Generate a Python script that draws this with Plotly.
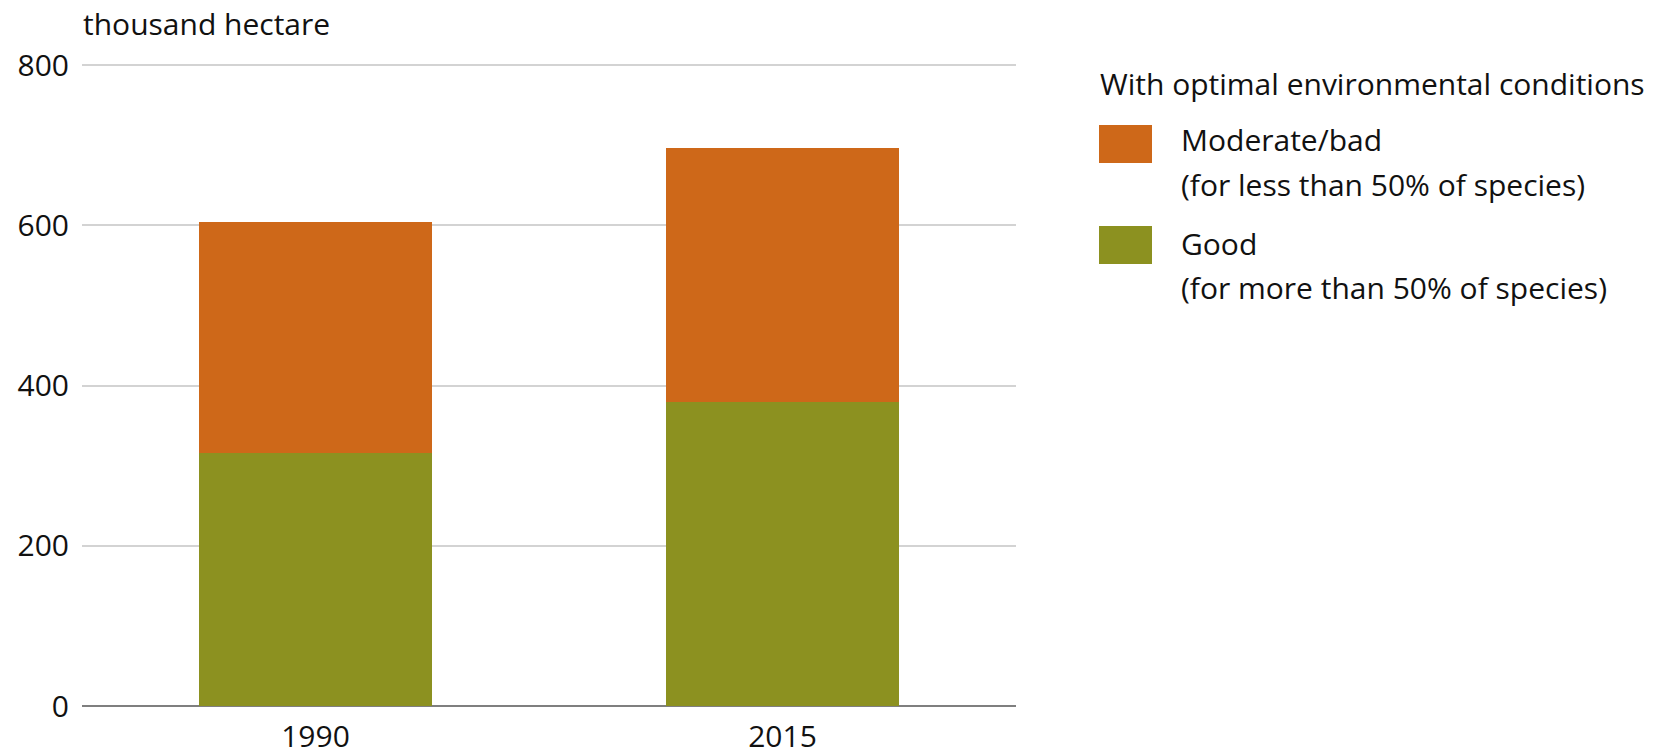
import plotly.graph_objects as go

categories = ["1990", "2015"]
good = [316, 379]
moderate_bad = [288, 317]
series_names = ["Moderate/bad", "Good"]
series_sub = ["(for less than 50% of species)", "(for more than 50% of species)"]
legend_title = "With optimal environmental conditions"
y_title = "thousand hectare"
y_ticks = [0, 200, 400, 600, 800]

ORANGE = "#CE6819"
GREEN = "#8C9120"
FONT = "Open Sans"
FS = 30
W, H = 1657, 755
Y_MAX = 805
L, R, B = 82, 1016, 706
T = B - (B - 65) * Y_MAX / 800

fig = go.Figure()
fig.add_trace(go.Bar(x=categories, y=good, name=series_names[1], marker=dict(color=GREEN, line=dict(width=0)), width=0.5, showlegend=False))
fig.add_trace(go.Bar(x=categories, y=moderate_bad, name=series_names[0], marker=dict(color=ORANGE, line=dict(width=0)), width=0.5, showlegend=False))

def px_x(px):
    return (px - L) / (R - L)

def px_y(py):
    return (B - py) / (B - T)

annotations = [
    dict(text=y_title, x=px_x(81), y=px_y(23), xref="paper", yref="paper", xanchor="left", yanchor="middle",
         showarrow=False, font=dict(family=FONT, size=FS, color="#111111")),
    dict(text=legend_title, x=px_x(1098), y=px_y(83), xref="paper", yref="paper", xanchor="left", yanchor="middle",
         showarrow=False, font=dict(family=FONT, size=FS, color="#111111")),
]
shapes = []
legend_rows = [(ORANGE, series_names[0], series_sub[0], 144, 139, 184), (GREEN, series_names[1], series_sub[1], 245, 243, 287)]
for color, name, sub, sw_c, y1, y2 in legend_rows:
    shapes.append(dict(type="rect", xref="paper", yref="paper", x0=px_x(1099), x1=px_x(1152),
                       y0=px_y(sw_c + 19), y1=px_y(sw_c - 19), fillcolor=color, line=dict(width=0)))
    annotations.append(dict(text=name, x=px_x(1179), y=px_y(y1), xref="paper", yref="paper", xanchor="left", yanchor="middle",
                            showarrow=False, font=dict(family=FONT, size=FS, color="#111111")))
    annotations.append(dict(text=sub, x=px_x(1179), y=px_y(y2), xref="paper", yref="paper", xanchor="left", yanchor="middle",
                            showarrow=False, font=dict(family=FONT, size=FS, color="#111111")))

fig.update_layout(
    width=W, height=H,
    margin=dict(l=L, r=W - R, t=T, b=H - B, pad=0),
    barmode="stack",
    plot_bgcolor="white", paper_bgcolor="white",
    font=dict(family=FONT, size=FS, color="#111111"),
    annotations=annotations, shapes=shapes,
    showlegend=False,
    xaxis=dict(type="category", range=[-0.5, 1.5], showgrid=False, showline=False, zeroline=False, automargin=False,
               ticks="outside", ticklen=4, tickcolor="rgba(0,0,0,0)", tickfont=dict(size=FS)),
    yaxis=dict(range=[0, Y_MAX], tickvals=y_ticks, showgrid=True, gridcolor="#D3D3D3", gridwidth=2, automargin=False,
               zeroline=True, zerolinecolor="#7F7F7F", zerolinewidth=2, showline=False,
               ticks="outside", ticklen=6, tickcolor="rgba(0,0,0,0)", tickfont=dict(size=FS)),
)

fig.write_html("out.html", config={"displayModeBar": False},
               post_script="document.body.style.margin='0';document.body.style.overflow='hidden';")
